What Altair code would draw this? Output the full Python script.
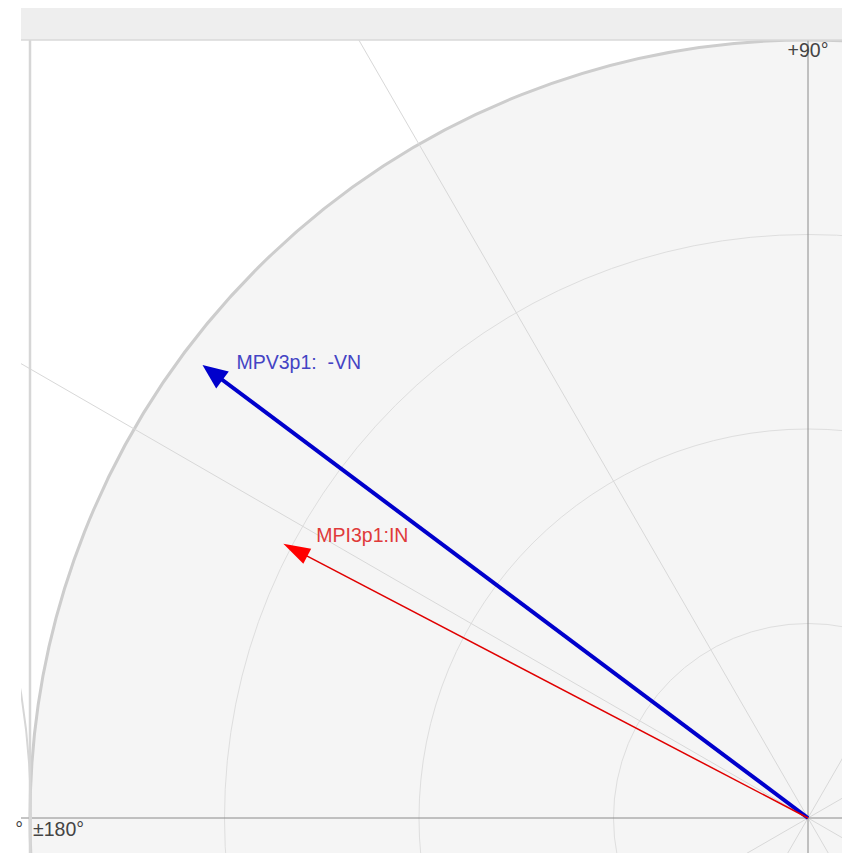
import altair as alt
import numpy as np
import pandas as pd

# ---- data ----
names = ["MPV3p1:\u00a0 -VN", "MPI3p1:IN"]
magnitudes = [0.972, 0.761]          # fraction of the outer ring
angles_deg = [143.2, 152.4]          # degrees, counter-clockwise from 0°
ring_fractions = [0.25, 0.5, 0.75]
spoke_angles = [30, 60, 120, 150, 210, 240, 300, 330]
axis_label_texts = ["+90°", "±180°"]

# ---- styling ----
styles = [
    dict(line="#0000cc", width=4, head="#0000cc", head_len=25, head_w=21,
         label="#4444c4", dx=34, dy=-2),
    dict(line="#e00000", width=1.5, head="#ff0000", head_len=27, head_w=17,
         label="#e03a3a", dx=33, dy=-8),
]
PX = 778            # pixels of the outer ring radius
W, H = 834, 845     # chart size (fits inside the page without overflow)
CX, CY = 800, 810   # centre in chart pixels
FONT = "Liberation Sans"

xs = alt.Scale(domain=[-CX / PX, (W - CX) / PX], nice=False, zero=False)
ys = alt.Scale(domain=[(CY - H) / PX, CY / PX], nice=False, zero=False)


def X(f):
    return alt.X(f, type="quantitative", scale=xs, axis=None)


def Y(f):
    return alt.Y(f, type="quantitative", scale=ys, axis=None)


TAU = 2 * np.pi
origin = pd.DataFrame({"x": [0.0], "y": [0.0]})

disc = alt.Chart(origin).mark_arc(
    theta=0, theta2=TAU, radius=PX, fill="#f5f5f5", stroke="#cdcdcd", strokeWidth=3
).encode(x=X("x"), y=Y("y"))

ring_layers = [
    alt.Chart(origin).mark_arc(
        theta=0, theta2=TAU, radius=r * PX, fill="transparent", stroke="#dedede", strokeWidth=1
    ).encode(x=X("x"), y=Y("y"))
    for r in ring_fractions
]

L = 3.0
sp = pd.DataFrame({"a": spoke_angles})
sp["x0"] = 0.0
sp["y0"] = 0.0
sp["x1"] = L * np.cos(np.radians(sp["a"]))
sp["y1"] = L * np.sin(np.radians(sp["a"]))
spokes = alt.Chart(sp).mark_rule(color="#d8d8d8", strokeWidth=1, clip=True).encode(
    x=X("x0"), y=Y("y0"), x2="x1:Q", y2="y1:Q"
)

ax_df = pd.DataFrame({"x0": [-L, 0.0], "x1": [L, 0.0], "y0": [0.0, -L], "y1": [0.0, L]})
axes_lines = alt.Chart(ax_df).mark_rule(color="#8a8a8a", strokeWidth=1, clip=True).encode(
    x=X("x0"), y=Y("y0"), x2="x1:Q", y2="y1:Q"
)

left_arc = alt.Chart(origin).mark_arc(
    theta=0, theta2=TAU, radius=PX, fill="transparent", stroke="#d6d6d6", strokeWidth=2
).encode(x=alt.value(22 - PX + 1), y=alt.value(CY))

vline = alt.Chart(origin).mark_rule(color="#d6d6d6", strokeWidth=2.5).encode(
    x=alt.value(22), y=alt.value(32), y2=alt.value(H)
)

white_strip = alt.Chart(origin).mark_rect(color="#ffffff").encode(
    x=alt.value(0), x2=alt.value(13), y=alt.value(0), y2=alt.value(H)
)

top_bar = alt.Chart(origin).mark_rect(color="#eeeeee").encode(
    x=alt.value(13), x2=alt.value(W), y=alt.value(0), y2=alt.value(32)
)
top_bar_line = alt.Chart(origin).mark_rule(color="#d9d9d9", strokeWidth=1.5).encode(
    x=alt.value(13), x2=alt.value(W), y=alt.value(32)
)

vec_layers = []
for n, m, a, st in zip(names, magnitudes, angles_deg, styles):
    rad = np.radians(a)
    m_line = m - 0.5 * st["head_len"] / PX
    d = pd.DataFrame({
        "name": [n],
        "x0": [0.0], "y0": [0.0],
        "lx": [m_line * np.cos(rad)], "ly": [m_line * np.sin(rad)],
        "tx": [m * np.cos(rad)], "ty": [m * np.sin(rad)],
    })
    line = alt.Chart(d).mark_rule(color=st["line"], strokeWidth=st["width"]).encode(
        x=X("x0"), y=Y("y0"), x2="lx:Q", y2="ly:Q"
    )
    ratio = st["head_w"] / st["head_len"]
    path = f"M0,0 L{-ratio:.4f},2 L{ratio:.4f},2 Z"
    head = alt.Chart(d).mark_point(
        shape=path, filled=True, size=st["head_len"] ** 2, angle=(90 - a) % 360,
        color=st["head"], opacity=1, strokeWidth=0
    ).encode(x=X("tx"), y=Y("ty"))
    label = alt.Chart(d).mark_text(
        align="left", baseline="middle", dx=st["dx"], dy=st["dy"], fontSize=19.5,
        font=FONT, color=st["label"]
    ).encode(x=X("tx"), y=Y("ty"), text="name:N")
    vec_layers += [line, head, label]

lab90 = alt.Chart(pd.DataFrame({"x": [0.0], "t": [axis_label_texts[0]]})).mark_text(
    align="center", baseline="middle", fontSize=19.5, font=FONT, color="#444444"
).encode(x=X("x"), y=alt.value(43), text="t:N")

lab180 = alt.Chart(pd.DataFrame({"y": [0.0], "t": [axis_label_texts[1]]})).mark_text(
    align="left", baseline="middle", fontSize=19.5, font=FONT, color="#444444", dy=12
).encode(x=alt.value(25), y=Y("y"), text="t:N")

frag = alt.Chart(pd.DataFrame({"y": [0.0], "t": ["°"]})).mark_text(
    align="right", baseline="middle", fontSize=19.5, font=FONT, color="#444444", dy=12
).encode(x=alt.value(15), y=Y("y"), text="t:N")

chart = alt.layer(
    disc, *ring_layers, spokes, axes_lines, left_arc, vline, white_strip,
    top_bar, top_bar_line, *vec_layers, lab90, lab180, frag
).properties(
    width=W, height=H, padding=0, background="#ffffff",
    autosize=alt.AutoSizeParams(type="none"),
).configure_view(strokeWidth=0)

chart.save("out.html", embed_options={"renderer": "svg", "actions": False})
